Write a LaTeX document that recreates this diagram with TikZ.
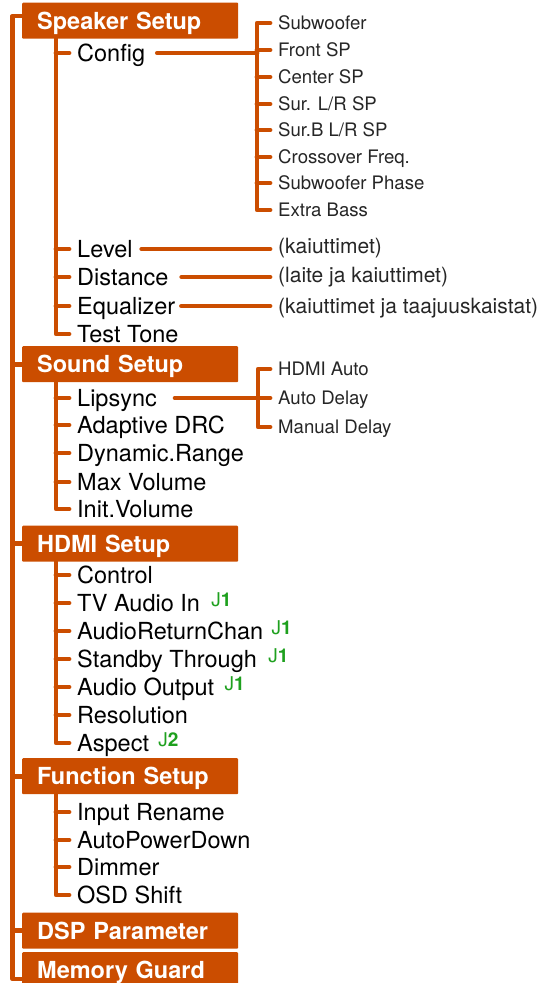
\documentclass[tikz,border=0pt]{standalone}
\usepackage{fontspec}
\setmainfont{TeX Gyre Heros}
\definecolor{menuorange}{RGB}{203,77,0}
\definecolor{markgreen}{RGB}{30,160,30}
\tikzset{
  header/.style={fill=menuorange, text=white, font=\fontsize{23.5}{24}\selectfont\bfseries,
    anchor=north west, minimum height=36pt, text width=186pt, inner xsep=15pt, inner ysep=0pt,
    text height=17pt, text depth=0pt, rounded corners=1pt, align=left},
  item/.style={anchor=west, inner sep=0pt, text height=17pt, text depth=0pt, font=\fontsize{23.5}{24}\selectfont},
  subitem/.style={anchor=west, inner sep=0pt, text height=13.4pt, text depth=0pt, text=black!85,
    font=\fontsize{18.6}{19}\selectfont},
  note/.style={subitem, text height=15pt, font=\fontsize{21}{22}\selectfont},
  jmark/.style={anchor=west, inner sep=0pt, text=markgreen, font=\fontsize{19}{19}\selectfont},
  branch/.style={draw=menuorange, line width=4.8pt, line cap=round, line join=round},
  stub/.style={branch, shorten >=8pt},
}
\begin{document}
\begin{tikzpicture}[x=1pt, y=-1pt]
\useasboundingbox (0,0) rectangle (544,983);

% menu headers
\node[header] (spk) at (22,2.5) {Speaker Setup};
\node[header] (snd) at (22,346) {Sound Setup};
\node[header] (hdm) at (22,525.5) {HDMI Setup};
\node[header] (fun) at (22,758) {Function Setup};
\node[header] (dsp) at (22,912.5) {DSP Parameter};
\node[header] (mem) at (22,952) {Memory Guard};

% speaker setup
\node[item] (cfg) at (77,53) {Config};
\node[item] (lvl) at (77,249) {Level};
\node[item] (dst) at (77,277) {Distance};
\node[item] (eq) at (77,306) {Equalizer};
\node[item] (tt) at (77,334) {Test Tone};

\node[subitem] (sw) at (278,23) {Subwoofer};
\node[subitem] (fs) at (278,50) {Front SP};
\node[subitem] (cs) at (278,77) {Center SP};
\node[subitem] (sl) at (278,104) {Sur. L/R SP};
\node[subitem] (sb) at (278,130) {Sur.B L/R SP};
\node[subitem] (cf) at (278,157) {Crossover Freq.};
\node[subitem] (sp) at (278,183) {Subwoofer Phase};
\node[subitem] (eb) at (278,210) {Extra Bass};

\node[note] (n1) at (278,246) {(kaiuttimet)};
\node[note] (n2) at (278,275) {(laite ja kaiuttimet)};
\node[note] (n3) at (278,306) {(kaiuttimet ja taajuuskaistat)};

% sound setup
\node[item] (lip) at (77,398) {Lipsync};
\node[item] (drc) at (77,425) {Adaptive DRC};
\node[item] (rng) at (77,453) {Dynamic.Range};
\node[item] (mxv) at (77,482) {Max Volume};
\node[item] (inv) at (77,509) {Init.Volume};

\node[subitem] (ha) at (278,369) {HDMI Auto};
\node[subitem] (ad) at (278,398) {Auto Delay};
\node[subitem] (md) at (278,427) {Manual Delay};

% hdmi setup
\node[item] (ctl) at (77,575) {Control};
\node[item] (tva) at (77,603) {TV Audio In};
\node[item] (arc) at (77,631) {AudioReturnChan};
\node[item] (sbt) at (77,659) {Standby Through};
\node[item] (aot) at (77,687) {Audio Output};
\node[item] (res) at (77,715) {Resolution};
\node[item] (asp) at (77,743) {Aspect};

\node[jmark] (j1) at ([xshift=11pt,yshift=3.5pt]tva.east) {J\textbf{1}};
\node[jmark] (j2) at ([xshift=8pt,yshift=3.5pt]arc.east) {J\textbf{1}};
\node[jmark] (j3) at ([xshift=11pt,yshift=3.5pt]sbt.east) {J\textbf{1}};
\node[jmark] (j4) at ([xshift=10pt,yshift=3.5pt]aot.east) {J\textbf{1}};
\node[jmark] (j5) at ([xshift=9pt,yshift=3.5pt]asp.east) {J\textbf{2}};

% function setup
\node[item] (ren) at (77,812) {Input Rename};
\node[item] (apd) at (77,840) {AutoPowerDown};
\node[item] (dim) at (77,867) {Dimmer};
\node[item] (osd) at (77,895) {OSD Shift};

% main trunk
\coordinate (t0) at (12.5,16);
\coordinate (t1) at (12.5,979);
\draw[branch] (spk.west |- t0) -- (t0) -- (t1) -- (mem.west |- t1);
\foreach \h in {snd,hdm,fun,dsp}
  \draw[branch] (\h.west -| t0) -- (\h.west);

% sub trees
\coordinate (s) at (56,0);
\draw[branch] (spk.south -| s) |- ([xshift=-8pt]tt.west);
\foreach \n in {cfg,lvl,dst,eq}
  \draw[stub] (\n.west -| s) -- (\n.west);
\draw[branch] (snd.south -| s) |- ([xshift=-8pt]inv.west);
\foreach \n in {lip,drc,rng,mxv}
  \draw[stub] (\n.west -| s) -- (\n.west);
\draw[branch] (hdm.south -| s) |- ([xshift=-8pt]asp.west);
\foreach \n in {ctl,tva,arc,sbt,aot,res}
  \draw[stub] (\n.west -| s) -- (\n.west);
\draw[branch] (fun.south -| s) |- ([xshift=-8pt]osd.west);
\foreach \n in {ren,apd,dim}
  \draw[stub] (\n.west -| s) -- (\n.west);

% config bracket
\coordinate (cb) at (257,53);
\draw[branch, shorten <=12pt] (cfg.east) -- (cfg.east -| cb);
\draw[branch] ([xshift=-8pt]sw.west) -| (cb) |- ([xshift=-8pt]eb.west);
\foreach \n in {fs,cs,sl,sb,cf,sp}
  \draw[stub] (\n.west -| cb) -- (\n.west);

% notes
\draw[branch, shorten <=9pt, shorten >=8pt] (lvl.east) -- (lvl.east -| n1.west);
\draw[branch, shorten <=13pt, shorten >=8pt] (dst.east) -- (dst.east -| n2.west);
\draw[branch, shorten <=6pt, shorten >=8pt] (eq.east) -- (eq.east -| n3.west);

% lipsync bracket
\coordinate (lb) at (258,398);
\draw[branch, shorten <=18pt] (lip.east) -- (lip.east -| lb);
\draw[branch] ([xshift=-8pt]ha.west) -| (lb) |- ([xshift=-8pt]md.west);
\draw[stub] (ad.west -| lb) -- (ad.west);
\end{tikzpicture}
\end{document}
